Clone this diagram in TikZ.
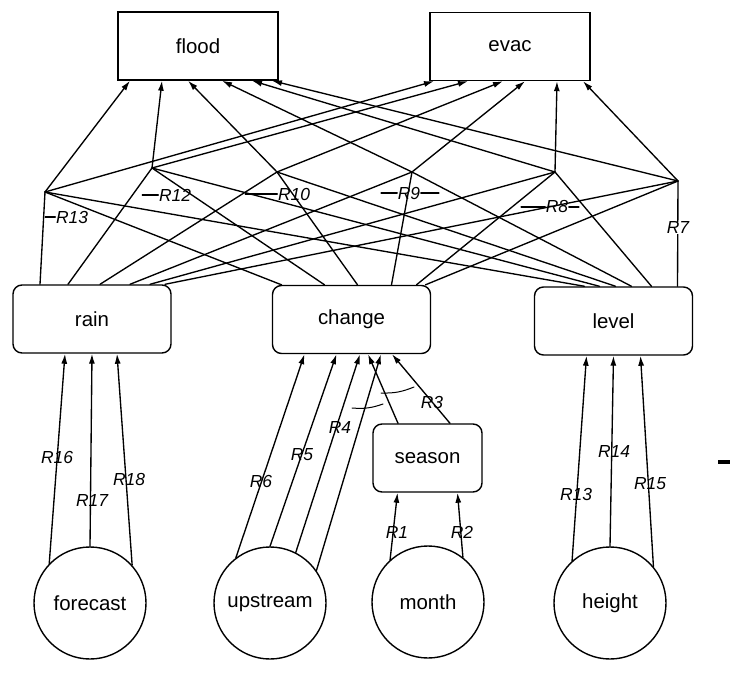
\documentclass[tikz,border=0pt]{standalone}
\usepackage{fontspec}
\setmainfont{Liberation Sans}
\usetikzlibrary{arrows.meta}
\begin{document}
\begin{tikzpicture}[x=1bp,y=-1bp,
  wire/.style={line width=1.35bp,line cap=round,line join=round},
  arr/.style={wire,-{Latex[length=10bp,width=6bp]}},
  nodefont/.style={font=\fontsize{20.5}{24}\selectfont},
  target/.style={draw,line width=1.4bp,minimum width=160bp,minimum height=68bp,inner sep=0pt,nodefont},
  var/.style={draw,line width=1.4bp,rounded corners=9bp,minimum width=158bp,minimum height=68bp,inner sep=0pt,nodefont},
  obs/.style={draw,circle,line width=1.4bp,minimum size=112bp,inner sep=0pt,nodefont},
  rl/.style={font=\fontsize{17.5}{20}\selectfont\itshape,inner sep=0.5bp}
]
\useasboundingbox (0,0) rectangle (747,673);

% outcome boxes
\node[target] (flood) at (198,46) {flood};
\node[target] (evac) at (510,46.5) {evac};

% intermediate variables
\node[var] (rain) at (92,319) {rain};
\node[var] (change) at (351.5,319.5) {change};
\node[var] (level) at (613.5,321) {level};
\node[var,minimum width=109bp] (season) at (427.5,458) {season};

% observed inputs
\node[obs] (forecast) at (90,603) {forecast};
\node[obs] (upstream) at (270,603) {upstream};
\node[obs] (month) at (428,602) {month};
\node[obs] (height) at (610,603) {height};

% rule junctions
\coordinate (J13) at (45,192);
\coordinate (J12) at (152,168);
\coordinate (J10) at (277,172);
\coordinate (J9) at (412,172);
\coordinate (J8) at (555,172);
\coordinate (J7) at (678,181);

% each rule joins rain, change and level and feeds both outcomes
\foreach \j/\fo/\eo/\ro/\co/\lo in
  {J13/-68/-76/-52/-70/-29, J12/-36/-42/-24/-27/-14, J10/-10/-7/8/6/2,
   J9/24/15/38/40/18, J8/54/47/58/65/38, J7/74/73/73/74/64}
{
  \draw[wire] ([xshift=\ro bp]rain.north) -- (\j);
  \draw[wire] ([xshift=\co bp]change.north) -- (\j);
  \draw[wire] ([xshift=\lo bp]level.north) -- (\j);
  \draw[arr] (\j) -- ([xshift=\fo bp]flood.south);
  \draw[arr] (\j) -- ([xshift=\eo bp]evac.south);
}

% rule labels of the upper layer
\node[rl] (t13) at (72,217) {R13};
\draw[wire] (t13.west) -- ++(-10,0);
\node[rl] (t12) at (175,195) {R12};
\draw[wire] (t12.west) -- ++(-16,0);
\node[rl] (t10) at (294,194) {R10};
\draw[wire] (t10.west) -- ++(-32,0);
\node[rl] (t9) at (409,193) {R9};
\draw[wire] (t9.west) -- ++(-16,0);
\draw[wire] (t9.east) -- ++(18,0);
\node[rl] (t8) at (557,207) {R8};
\draw[wire] (t8.west) -- ++(-24,0);
\draw[wire] (t8.east) -- ++(10,0);
\node[rl,fill=white] (t7) at (678,228) {R7};

% forecast -> rain
\draw[arr] (forecast.136) -- ([xshift=-27bp]rain.south);
\draw[arr] (forecast.90) -- (rain.south);
\draw[arr] (forecast.42) -- ([xshift=25bp]rain.south);
\node[rl] (r16) at (57,457) {R16};
\node[rl] (r17) at (92,500) {R17};
\node[rl] (r18) at (129,479) {R18};

% height -> level
\draw[arr] (height.132) -- ([xshift=-27bp]level.south);
\draw[arr] (height.90) -- (level.south);
\draw[arr] (height.40) -- ([xshift=27bp]level.south);
\node[rl] (r13b) at (576,494) {R13};
\node[rl] (r14) at (614,451) {R14};
\node[rl] (r15) at (650,484) {R15};

% month -> season
\draw[arr] (month.132) -- ([xshift=-30bp]season.south);
\draw[arr] (month.52) -- ([xshift=30bp]season.south);
\node[rl] (r1) at (397,532) {R1};
\node[rl] (r2) at (462,532) {R2};

% upstream and season -> change
\draw[arr] (upstream.127) -- ([xshift=-47bp]change.south);
\draw[arr] (upstream.90) -- ([xshift=-15bp]change.south);
\draw[arr] (upstream.63) -- ([xshift=8.5bp]change.south);
\draw[arr] (upstream.35) -- ([xshift=29.5bp]change.south);
\draw[arr] ([xshift=-29.5bp]season.north) -- ([xshift=16.5bp]change.south);
\draw[arr] ([xshift=22.5bp]season.north) -- ([xshift=40.5bp]change.south);
\draw[wire,line width=1bp] (352,408) to[bend right=12] (383,404);
\draw[wire,line width=1bp] (381,393) to[bend right=12] (414,387);
\node[rl] (r6) at (261,481) {R6};
\node[rl] (r5) at (302,455) {R5};
\node[rl] (r4) at (340,427) {R4};
\node[rl] (r3) at (432,402) {R3};

% stray mark at the right margin
\fill (718,460) rectangle (730,464);
\end{tikzpicture}
\end{document}
